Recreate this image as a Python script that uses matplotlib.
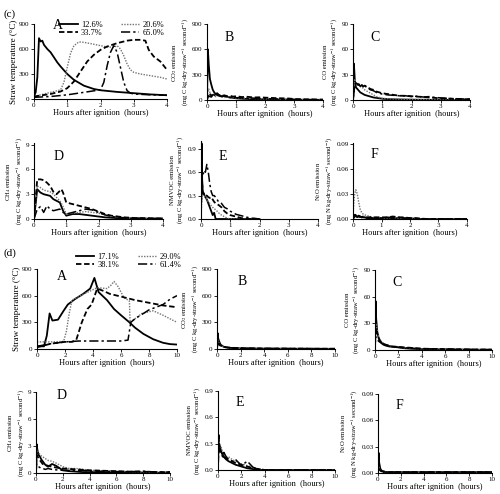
import matplotlib
matplotlib.use("Agg")
import matplotlib.pyplot as plt

plt.rcParams['font.family'] = ['Liberation Serif', 'DejaVu Serif']
plt.rcParams['mathtext.fontset'] = 'stix'

# ---------------- data: row (c) ----------------
c_labels = ["12.6%", "20.6%", "33.7%", "65.0%"]
cA_x_solid = [0, 0.05, 0.1, 0.15, 0.2, 0.25, 0.3, 0.4, 0.5, 0.6, 0.7, 0.8, 1.0, 1.2, 1.5, 1.8, 2.0, 2.5, 3.0, 3.5, 4.0]
cA_solid = [30, 80, 260, 730, 690, 700, 650, 600, 560, 500, 440, 390, 300, 230, 160, 120, 105, 85, 70, 55, 45]
cA_x_dot = [0, 0.3, 0.6, 0.8, 0.9, 1.0, 1.1, 1.2, 1.35, 1.5, 1.7, 2.0, 2.2, 2.4, 2.5, 2.6, 2.7, 2.8, 2.9, 3.0, 3.2, 3.5, 3.8, 4.0]
cA_dot = [30, 60, 90, 110, 200, 380, 550, 640, 685, 680, 665, 640, 625, 620, 640, 600, 520, 420, 350, 320, 300, 280, 260, 240]
cA_x_dash = [0, 0.5, 0.8, 1.0, 1.2, 1.4, 1.6, 1.8, 2.0, 2.2, 2.5, 2.8, 3.0, 3.2, 3.35, 3.45, 3.6, 3.8, 4.0]
cA_dash = [30, 60, 90, 130, 210, 330, 450, 530, 590, 630, 670, 700, 710, 710, 700, 590, 510, 450, 350]
cA_x_dd = [0, 0.5, 1.0, 1.5, 2.0, 2.1, 2.2, 2.3, 2.4, 2.5, 2.6, 2.7, 2.8, 2.9, 3.0, 3.5, 4.0]
cA_dd = [20, 30, 50, 80, 110, 200, 400, 560, 640, 560, 380, 200, 100, 70, 60, 50, 45]

c_grid = [0, 0.03, 0.06, 0.1, 0.15, 0.2, 0.25, 0.3, 0.35, 0.4, 0.5, 0.6, 0.7, 0.8, 0.9, 1.0,
          1.2, 1.4, 1.6, 1.8, 2.0, 2.2, 2.4, 2.6, 2.8, 3.0, 3.2, 3.4, 3.6, 3.8, 4.0]
cB = [
    [0, 600, 420, 250, 180, 120, 90, 70, 80, 60, 45, 50, 35, 30, 25, 20, 15, 12, 10, 8, 8, 6, 5, 5, 4, 4, 3, 3, 3, 2, 2],
    [0, 100, 130, 90, 60, 70, 50, 40, 60, 45, 40, 30, 35, 25, 30, 20, 25, 18, 20, 15, 12, 15, 10, 12, 8, 6, 5, 4, 3, 3, 2],
    [0, 60, 80, 70, 50, 60, 70, 55, 75, 60, 50, 55, 45, 50, 40, 45, 35, 38, 30, 32, 28, 25, 22, 20, 18, 12, 10, 8, 8, 6, 5],
    [0, 30, 50, 40, 35, 60, 45, 80, 55, 50, 40, 45, 35, 30, 35, 28, 25, 20, 22, 18, 15, 15, 12, 10, 8, 6, 5, 4, 4, 3, 3],
]
cC = [
    [0, 43, 25, 15, 13, 11, 9, 8, 7, 6, 5, 4, 3, 2.5, 2, 1.5, 1, 0.8, 0.6, 0.5, 0.4, 0.3, 0.3, 0.2, 0.2, 0.2, 0.1, 0.1, 0.1, 0.1, 0.1],
    [0, 15, 25, 20, 18, 17, 16, 15, 14, 12, 10, 8, 6, 4, 3, 2, 1.5, 1.2, 1, 0.8, 0.6, 0.5, 0.4, 0.3, 0.3, 0.2, 0.2, 0.2, 0.1, 0.1, 0.1],
    [0, 10, 18, 20, 19, 18, 17, 18, 16, 17, 15, 13, 12, 10, 9, 8, 7, 6, 5, 5, 4.5, 4, 3.5, 3, 2.5, 2, 1.8, 1.5, 1.2, 1, 1],
    [0, 8, 15, 18, 17, 19, 16, 18, 15, 17, 14, 12, 11, 9, 8, 7, 6, 5.5, 5, 5, 4, 4.5, 3.5, 4, 3, 2.5, 2, 1.5, 1.5, 1.2, 1],
]
cD_x = [0, 0.1, 0.2, 0.3, 0.4, 0.5, 0.6, 0.7, 0.8, 0.85, 0.9, 1.0, 1.2, 1.4, 1.6, 1.8, 2.0, 2.2, 2.4, 2.6, 2.8, 3.0, 3.2, 3.5, 4.0]
cD = [
    [0, 3.6, 3.2, 3.0, 2.9, 2.8, 2.4, 2.2, 2.0, 1.5, 1.0, 0.4, 0.6, 0.6, 0.5, 0.4, 0.3, 0.2, 0.15, 0.1, 0.1, 0.05, 0.05, 0.05, 0.05],
    [0, 4.0, 3.8, 3.5, 3.4, 3.3, 3.0, 2.6, 2.2, 1.9, 1.5, 0.6, 0.7, 0.8, 0.9, 0.8, 0.7, 0.5, 0.35, 0.25, 0.15, 0.1, 0.1, 0.05, 0.05],
    [0, 4.8, 4.8, 4.7, 4.4, 4.0, 3.3, 3.0, 3.4, 3.6, 3.2, 2.0, 1.8, 1.6, 1.4, 1.2, 0.9, 0.6, 0.4, 0.3, 0.2, 0.15, 0.1, 0.1, 0.05],
    [0, 1.2, 1.5, 0.8, 1.6, 1.2, 1.0, 1.1, 1.2, 1.0, 0.8, 0.6, 0.8, 1.0, 1.2, 1.1, 0.8, 0.5, 0.3, 0.2, 0.15, 0.1, 0.1, 0.05, 0.05],
]
cE_x = [0, 0.02, 0.04, 0.06, 0.08, 0.1, 0.15, 0.2, 0.25, 0.3, 0.35, 0.4, 0.45, 0.5, 0.6, 0.7,
        0.8, 0.9, 1.0, 1.1, 1.2, 1.3, 1.4, 1.5, 1.6, 1.7, 1.8, 1.9, 2.0]
cE = [
    [0, 0.97, 0.5, 0.35, 0.33, 0.32, 0.28, 0.25, 0.2, 0.15, 0.1, 0.05, 0.08, 0.0, 0, 0, 0, 0, 0, 0, 0, 0, 0, 0, 0, 0, 0, 0, 0],
    [0, 0.2, 0.3, 0.32, 0.3, 0.3, 0.28, 0.25, 0.22, 0.2, 0.17, 0.15, 0.13, 0.12, 0.08, 0.05, 0.03, 0.01, 0, 0, 0, 0, 0, 0, 0, 0, 0, 0, 0],
    [0, 0.6, 0.45, 0.35, 0.32, 0.33, 0.3, 0.3, 0.28, 0.27, 0.28, 0.25, 0.22, 0.2, 0.18, 0.15, 0.1, 0.07, 0.05, 0.04, 0.03, 0.02, 0.01, 0.01, 0, 0, 0, 0, 0],
    [0, 0.4, 0.55, 0.6, 0.58, 0.62, 0.6, 0.7, 0.6, 0.45, 0.35, 0.3, 0.3, 0.28, 0.22, 0.2, 0.15, 0.13, 0.1, 0.08, 0.06, 0.05, 0.04, 0.03, 0.02, 0.01, 0.01, 0.005, 0],
]
cF = [
    [0, 0.004, 0.005, 0.004, 0.003, 0.004, 0.003, 0.002, 0.002, 0.002, 0.001, 0.001, 0.001, 0.001, 0.001, 0.001,
     0.001, 0.001, 0.001, 0.001, 0.0005, 0.0005, 0, 0, 0, 0, 0, 0, 0, 0, 0],
    [0.005, 0.02, 0.03, 0.035, 0.03, 0.02, 0.012, 0.008, 0.006, 0.005, 0.004, 0.003, 0.002, 0.002, 0.002, 0.001,
     0.001, 0.002, 0.001, 0.001, 0.001, 0.0005, 0, 0, 0, 0, 0, 0, 0, 0, 0],
    [0, 0.002, 0.004, 0.005, 0.004, 0.003, 0.003, 0.002, 0.003, 0.002, 0.002, 0.002, 0.002, 0.002, 0.002, 0.002,
     0.002, 0.003, 0.002, 0.002, 0.001, 0.001, 0.0005, 0, 0, 0, 0, 0, 0, 0, 0],
    [0, 0.002, 0.003, 0.003, 0.002, 0.003, 0.002, 0.002, 0.002, 0.002, 0.001, 0.002, 0.001, 0.001, 0.002, 0.001,
     0.002, 0.002, 0.002, 0.001, 0.001, 0.0005, 0, 0, 0, 0, 0, 0, 0, 0, 0],
]

# ---------------- data: row (d) ----------------
d_labels = ["17.1%", "29.0%", "38.1%", "61.4%"]
dA_x_solid = [0, 0.5, 0.7, 0.9, 1.1, 1.5, 1.9, 2.2, 2.7, 3.3, 3.8, 4.1, 4.4, 5.0, 5.5, 6.0, 6.6, 7.0, 7.6, 8.3, 9.0, 9.5, 10.0]
dA_solid = [30, 30, 150, 400, 320, 330, 430, 500, 560, 620, 680, 800, 640, 550, 450, 380, 300, 240, 170, 110, 70, 55, 50]
dA_x_dot = [0, 1.0, 1.9, 2.1, 2.3, 2.5, 3.0, 3.5, 4.3, 5.0, 5.3, 5.5, 5.8, 6.2, 6.6, 6.65, 7.0, 7.5, 8.3, 9.0, 9.5, 10.0]
dA_dot = [80, 80, 85, 200, 400, 550, 590, 630, 690, 680, 720, 760, 700, 580, 540, 300, 340, 400, 430, 380, 340, 300]
dA_x_dash = [0, 1.0, 2.0, 2.5, 2.8, 3.2, 3.6, 3.9, 4.3, 4.8, 5.2, 6.0, 7.0, 8.0, 9.0, 10.0]
dA_dash = [20, 60, 80, 80, 100, 300, 450, 500, 680, 650, 620, 590, 550, 520, 490, 470]
dA_x_dd = [0, 1.0, 2.0, 3.0, 4.0, 5.0, 6.0, 6.5, 6.7, 7.0, 7.5, 8.0, 8.5, 9.0, 9.5, 10.0]
dA_dd = [30, 60, 80, 90, 90, 90, 90, 100, 300, 340, 390, 440, 470, 500, 560, 600]

d_grid = [0, 0.05, 0.1, 0.2, 0.3, 0.4, 0.5, 0.7, 0.9, 1.2, 1.5, 2.0, 2.5, 3.0, 3.5, 4.0, 5.0, 6.0, 7.0, 8.0, 9.0, 10.0]
dB = [
    [0, 180, 120, 80, 50, 40, 30, 20, 15, 12, 10, 8, 6, 5, 5, 4, 4, 3, 3, 3, 2, 2],
    [0, 100, 90, 60, 45, 35, 28, 20, 15, 12, 10, 8, 7, 6, 5, 5, 4, 4, 3, 3, 3, 2],
    [0, 80, 70, 55, 40, 35, 30, 22, 18, 14, 12, 10, 8, 7, 6, 5, 5, 4, 4, 3, 3, 3],
    [0, 60, 55, 45, 35, 30, 25, 20, 16, 13, 11, 9, 8, 7, 6, 6, 5, 5, 4, 4, 3, 3],
]
dC = [
    [0, 55, 35, 20, 14, 11, 9, 7, 5, 4, 3.5, 3, 2, 1.5, 1.2, 1, 0.8, 0.6, 0.5, 0.4, 0.3, 0.3],
    [0, 30, 28, 22, 16, 12, 10, 8, 6, 5, 4, 3, 2.5, 2, 1.5, 1.2, 1, 0.8, 0.6, 0.5, 0.4, 0.3],
    [0, 25, 22, 18, 14, 11, 9, 7, 6, 5, 4, 3.5, 3, 2.5, 2, 1.5, 1.2, 1, 0.8, 0.6, 0.5, 0.4],
    [0, 15, 14, 12, 10, 9, 8, 6, 5, 4.5, 4, 3, 2.5, 2, 1.8, 1.5, 1.2, 1, 0.8, 0.6, 0.5, 0.4],
]
dD = [
    [0, 3.2, 2.6, 2.0, 1.8, 1.5, 1.3, 0.9, 0.7, 1.0, 0.8, 0.3, 0.2, 0.15, 0.1, 0.1, 0.08, 0.05, 0.05, 0.05, 0.03, 0.03],
    [0, 2.6, 2.5, 2.3, 2.0, 1.9, 1.8, 1.6, 1.4, 1.3, 1.1, 0.7, 0.5, 0.5, 0.4, 0.3, 0.25, 0.2, 0.15, 0.1, 0.08, 0.05],
    [0, 2.0, 1.9, 1.6, 1.4, 1.2, 1.0, 0.9, 0.8, 0.7, 0.6, 0.5, 0.45, 0.4, 0.35, 0.3, 0.25, 0.2, 0.15, 0.15, 0.1, 0.1],
    [0, 1.0, 0.9, 0.7, 0.6, 0.5, 0.5, 0.4, 0.5, 0.4, 0.35, 0.3, 0.3, 0.25, 0.3, 0.2, 0.2, 0.15, 0.15, 0.2, 0.1, 0.1],
]
dE = [
    [0, 0.4, 0.3, 0.25, 0.2, 0.18, 0.15, 0.12, 0.1, 0.08, 0.06, 0.04, 0.02, 0.01, 0, 0, 0, 0, 0, 0, 0, 0],
    [0, 0.35, 0.3, 0.28, 0.25, 0.2, 0.18, 0.15, 0.15, 0.12, 0.1, 0.07, 0.05, 0.03, 0.01, 0, 0, 0, 0, 0, 0, 0],
    [0, 0.3, 0.28, 0.22, 0.2, 0.17, 0.15, 0.13, 0.12, 0.1, 0.08, 0.06, 0.04, 0.02, 0.01, 0, 0, 0, 0, 0, 0, 0],
    [0, 0.25, 0.22, 0.2, 0.18, 0.15, 0.2, 0.15, 0.12, 0.1, 0.12, 0.05, 0.1, 0.03, 0.01, 0, 0, 0, 0, 0, 0, 0],
]
dF = [
    [0, 0.023, 0.012, 0.005, 0.003, 0.002, 0.002, 0.001, 0.001, 0.001, 0.001, 0.001, 0.001, 0.001, 0.001, 0.001, 0.001, 0.001, 0.001, 0.001, 0.001, 0.001],
    [0, 0.008, 0.006, 0.003, 0.002, 0.002, 0.001, 0.001, 0.001, 0.001, 0.001, 0.001, 0.001, 0.001, 0.001, 0.001, 0.001, 0.001, 0.001, 0.001, 0.001, 0.001],
    [0, 0.006, 0.005, 0.003, 0.002, 0.002, 0.001, 0.001, 0.001, 0.001, 0.001, 0.001, 0.001, 0.001, 0.001, 0.001, 0.001, 0.001, 0.001, 0.001, 0.001, 0.001],
    [0, 0.005, 0.004, 0.003, 0.002, 0.001, 0.001, 0.001, 0.001, 0.001, 0.001, 0.001, 0.001, 0.001, 0.001, 0.001, 0.001, 0.001, 0.001, 0.001, 0.001, 0.001],
]

# ---------------- styles ----------------
STY = [
    dict(color='black', lw=1.3, ls='-'),
    dict(color='0.45', lw=1.0, ls=(0, (1, 1))),
    dict(color='black', lw=1.3, ls=(0, (3, 1.5))),
    dict(color='black', lw=1.1, ls=(0, (6, 2, 1.5, 2))),
]
UNIT = "(mg C kg-dry-straw$^{-1}$ second$^{-1}$)"
UNIT_N = "(mg N kg-dry-straw$^{-1}$ second$^{-1}$)"

fig = plt.figure(figsize=(5.0, 4.94), dpi=100)


def px(x0, x1, y0, y1):
    return [x0 / 500, 1 - y1 / 494, (x1 - x0) / 500, (y1 - y0) / 494]


def style_ax(ax, xmax, xticks, ylim, yticks, yfmt, letter, ylabel, lx=0.15, ly=0.82, ylfs=4.8):
    ax.set_xlim(0, xmax)
    ax.set_ylim(*ylim)
    ax.set_xticks(xticks)
    ax.set_yticks(yticks)
    ax.set_yticklabels([yfmt.format(v) for v in yticks])
    for s in ['top', 'right']:
        ax.spines[s].set_visible(False)
    for s in ['left', 'bottom']:
        ax.spines[s].set_linewidth(0.8)
    ax.tick_params(direction='out', length=2, width=0.6, labelsize=5, pad=1.2)
    ax.set_xlabel("Hours after ignition  (hours)", fontsize=6, labelpad=0.5)
    ax.set_ylabel(ylabel, fontsize=ylfs, labelpad=1, linespacing=1.15)
    ax.text(lx, ly, letter, transform=ax.transAxes, fontsize=10, ha='left', va='center')


def plot_group(ax, xs, series):
    for x, y, st in zip(xs, series, STY):
        ax.plot(x, y, **st)


LEG = dict(ncol=2, loc='upper right', fontsize=6, frameon=False, handlelength=2.2,
           columnspacing=2.2, labelspacing=0.0, handletextpad=0.4, borderaxespad=0, borderpad=0)

# Row (c) top
ax = fig.add_axes(px(34, 167, 24, 99))
lines = []
for x, y, st, lab in zip([cA_x_solid, cA_x_dot, cA_x_dash, cA_x_dd], [cA_solid, cA_dot, cA_dash, cA_dd], STY, c_labels):
    lines += ax.plot(x, y, label=lab, **st)
style_ax(ax, 4, [0, 1, 2, 3, 4], (0, 900), [0, 300, 600, 900], "{:d}", "A", "Straw temperature (°C)", lx=0.14, ly=0.98, ylfs=6.5)
ax.legend([lines[0], lines[2], lines[1], lines[3]], [c_labels[0], c_labels[2], c_labels[1], c_labels[3]],
          bbox_to_anchor=(0.98, 1.04), **LEG)

ax = fig.add_axes(px(207, 323, 24, 100))
plot_group(ax, [c_grid] * 4, cB)
style_ax(ax, 4, [0, 1, 2, 3, 4], (0, 900), [0, 300, 600, 900], "{:d}", "B", "CO$_2$ emission\n" + UNIT)

ax = fig.add_axes(px(353, 470, 24, 100))
plot_group(ax, [c_grid] * 4, cC)
style_ax(ax, 4, [0, 1, 2, 3, 4], (0, 90), [0, 30, 60, 90], "{:d}", "C", "CO emission\n" + UNIT)

# Row (c) bottom
ax = fig.add_axes(px(34, 163, 143, 219))
plot_group(ax, [cD_x] * 4, cD)
style_ax(ax, 4, [0, 1, 2, 3, 4], (0, 9.2), [0, 3, 6, 9], "{:d}", "D", "CH$_4$ emission\n" + UNIT)

ax = fig.add_axes(px(201, 318, 141, 219))
plot_group(ax, [cE_x] * 4, cE)
style_ax(ax, 4, [0, 1, 2, 3, 4], (0, 1.0), [0.0, 0.3, 0.6, 0.9], "{:.1f}", "E", "NMVOC emission\n" + UNIT, ly=0.8)

ax = fig.add_axes(px(353, 467, 143, 219))
plot_group(ax, [c_grid] * 4, cF)
style_ax(ax, 4, [0, 1, 2, 3, 4], (0, 0.091), [0.0, 0.03, 0.06, 0.09], "{:.2f}", "F", "N$_2$O emission\n" + UNIT_N, ly=0.85)

# Row (d) top
ax = fig.add_axes(px(37, 177, 269, 349))
lines = []
for x, y, st, lab in zip([dA_x_solid, dA_x_dot, dA_x_dash, dA_x_dd], [dA_solid, dA_dot, dA_dash, dA_dd], STY, d_labels):
    lines += ax.plot(x, y, label=lab, **st)
style_ax(ax, 10, [0, 2, 4, 6, 8, 10], (0, 900), [0, 300, 600, 900], "{:d}", "A", "Straw temperature (°C)", lx=0.14, ly=0.9, ylfs=6.5)
ax.legend([lines[0], lines[2], lines[1], lines[3]], [d_labels[0], d_labels[2], d_labels[1], d_labels[3]],
          bbox_to_anchor=(1.03, 1.2), **LEG)

ax = fig.add_axes(px(217, 335, 269, 349))
plot_group(ax, [d_grid] * 4, dB)
style_ax(ax, 10, [0, 2, 4, 6, 8, 10], (0, 900), [0, 300, 600, 900], "{:d}", "B", "CO$_2$ emission\n" + UNIT, lx=0.17, ly=0.84)

ax = fig.add_axes(px(375, 492, 270, 350))
plot_group(ax, [d_grid] * 4, dC)
style_ax(ax, 10, [0, 2, 4, 6, 8, 10], (0, 90), [0, 30, 60, 90], "{:d}", "C", "CO emission\n" + UNIT, ly=0.84)

# Row (d) bottom
ax = fig.add_axes(px(36, 170, 392, 473))
plot_group(ax, [d_grid] * 4, dD)
style_ax(ax, 10, [0, 2, 4, 6, 8, 10], (0, 9), [0, 3, 6, 9], "{:d}", "D", "CH$_4$ emission\n" + UNIT, ly=0.96)

ax = fig.add_axes(px(218, 335, 391, 470))
plot_group(ax, [d_grid] * 4, dE)
style_ax(ax, 10, [0, 2, 4, 6, 8, 10], (0, 0.9), [0.0, 0.3, 0.6, 0.9], "{:.1f}", "E", "NMVOC emission\n" + UNIT, ly=0.85)

ax = fig.add_axes(px(378, 492, 394, 473))
plot_group(ax, [d_grid] * 4, dF)
style_ax(ax, 10, [0, 2, 4, 6, 8, 10], (0, 0.09), [0.0, 0.03, 0.06, 0.09], "{:.2f}", "F", "N$_2$O emission\n" + UNIT_N, ly=0.86)

fig.text(0.006, 1 - 14 / 494, "(c)", fontsize=8, ha='left', va='center')
fig.text(0.006, 1 - 253 / 494, "(d)", fontsize=8, ha='left', va='center')

fig.savefig("out.png", dpi=100)
